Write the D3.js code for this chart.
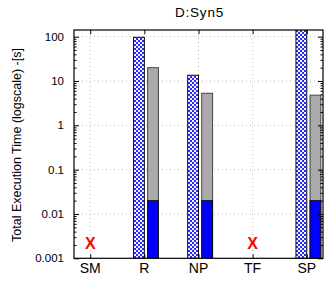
<!DOCTYPE html>
<html><head><meta charset="utf-8">
<script src="https://cdn.jsdelivr.net/npm/d3@7/dist/d3.min.js"></script>
<style>body{margin:0;background:#fff}svg{display:block}text{font-family:"Liberation Sans",Arial,Helvetica,sans-serif}</style>
</head><body><svg id="c" width="324" height="283"></svg>
<script>
const categories = ["SM","R","NP","TF","SP"];
const patternValues = [null, 97, 13.5, null, 400];
const grayTotals = [null, 20, 5.3, null, 4.8];
const blueValues = [null, 0.02, 0.02, null, 0.02];
const failed = [true, false, false, true, false];
const yTicks = [0.001, 0.01, 0.1, 1, 10, 100];
const yTickLabels = ["0.001","0.01","0.1","1","10","100"];
const title = "D:Syn5";
const yLabel = "Total Execution Time (logscale) -[s]";

const svg = d3.select("#c");
const L = 74, R = 323, T = 30, B = 258.3;
const x = d3.scaleLinear().domain([-0.3, 4.3]).range([L, R]);
const y = d3.scaleLog().domain([0.001, 141.6]).range([B, T]);

const defs = svg.append("defs");
const pat = defs.append("pattern").attr("id","chk").attr("patternUnits","userSpaceOnUse")
  .attr("width",4).attr("height",4);
pat.append("rect").attr("width",4).attr("height",4).attr("fill","#2a2aff");
pat.append("rect").attr("x",0).attr("y",0).attr("width",2).attr("height",2).attr("fill","#f4f4ff");
pat.append("rect").attr("x",2).attr("y",2).attr("width",2).attr("height",2).attr("fill","#f4f4ff");
defs.append("clipPath").attr("id","clip").append("rect").attr("x",L).attr("y",T).attr("width",R-L).attr("height",B-T);

// grid
const g = svg.append("g");
g.selectAll(".hg").data(yTicks.slice(1)).join("line")
  .attr("x1",L).attr("x2",R).attr("y1",d=>y(d)).attr("y2",d=>y(d))
  .attr("stroke","#bbb").attr("stroke-width",1).attr("stroke-dasharray","1,3");
g.selectAll(".vg").data(categories).join("line")
  .attr("x1",(d,i)=>x(i)).attr("x2",(d,i)=>x(i)).attr("y1",T).attr("y2",B)
  .attr("stroke","#bbb").attr("stroke-width",1).attr("stroke-dasharray","1,3");

const bars = svg.append("g").attr("clip-path","url(#clip)");
const bw = 0.2, gap = 0.06;
categories.forEach((c,i)=>{
  if (patternValues[i] != null) {
    bars.append("rect").attr("x",x(i-bw)).attr("width",x(i)-x(i-bw))
      .attr("y",y(patternValues[i])).attr("height",B-y(patternValues[i]))
      .attr("fill","url(#chk)").attr("stroke","#111").attr("stroke-width",1);
  }
  if (grayTotals[i] != null) {
    const x0 = x(i+gap), w = x(i+gap+bw)-x(i+gap);
    bars.append("rect").attr("x",x0).attr("width",w)
      .attr("y",y(grayTotals[i])).attr("height",B-y(grayTotals[i]))
      .attr("fill","#aaaaaa").attr("stroke","#444").attr("stroke-width",1);
    bars.append("rect").attr("x",x0).attr("width",w)
      .attr("y",y(blueValues[i])).attr("height",B-y(blueValues[i]))
      .attr("fill","#0000ff").attr("stroke","#111").attr("stroke-width",1);
  }
});

// frame & axes
const ax = svg.append("g");
const minor = [];
for (let e=-3;e<=2;e++) for (let k=2;k<=9;k++){ const v=k*Math.pow(10,e); if (v<=141.6) minor.push(v); }
ax.append("g").attr("transform",`translate(${L},0)`)
  .call(d3.axisRight(y).tickValues(yTicks).tickFormat("").tickSize(5))
  .call(s=>s.select(".domain").remove());
ax.append("g").attr("transform",`translate(${L},0)`)
  .call(d3.axisRight(y).tickValues(minor).tickFormat("").tickSize(2.5))
  .call(s=>s.select(".domain").remove());
ax.append("g").attr("transform",`translate(${R},0)`)
  .call(d3.axisLeft(y).tickValues(yTicks).tickFormat("").tickSize(5))
  .call(s=>s.select(".domain").remove());
ax.append("g").attr("transform",`translate(${R},0)`)
  .call(d3.axisLeft(y).tickValues(minor).tickFormat("").tickSize(2.5))
  .call(s=>s.select(".domain").remove());
ax.append("g").attr("transform",`translate(0,${T})`)
  .call(d3.axisBottom(x).tickValues(d3.range(categories.length)).tickFormat("").tickSize(4))
  .call(s=>s.select(".domain").remove());
ax.append("g").attr("transform",`translate(0,${B})`)
  .call(d3.axisTop(x).tickValues(d3.range(categories.length)).tickFormat("").tickSize(4))
  .call(s=>s.select(".domain").remove());
ax.selectAll(".tick line").attr("stroke","#000");
ax.append("rect").attr("x",L).attr("y",T).attr("width",R-L).attr("height",B-T)
  .attr("fill","none").attr("stroke","#000").attr("stroke-width",1.2);

// labels
svg.selectAll(".yl").data(yTicks).join("text")
  .attr("x",64).attr("y",d=>y(d)+4).attr("text-anchor","end")
  .attr("font-size",11.5).text((d,i)=>yTickLabels[i]);
svg.selectAll(".xl").data(categories).join("text")
  .attr("x",(d,i)=>x(i)).attr("y",273).attr("text-anchor","middle")
  .attr("font-size",14).text(d=>d);
svg.selectAll(".fx").data(categories.filter((d,i)=>failed[i])).join("text")
  .attr("x",d=>x(categories.indexOf(d))).attr("y",249).attr("text-anchor","middle")
  .attr("font-size",16).attr("font-weight","bold").attr("fill","#ff0000").text("X");
svg.append("text").attr("x",(L+R)/2+1).attr("y",17).attr("text-anchor","middle")
  .attr("font-size",13.5).attr("letter-spacing",0.8).text(title);
svg.append("text").attr("transform","translate(21,145) rotate(-90)").attr("text-anchor","middle")
  .attr("font-size",12.5).text(yLabel);
</script></body></html>
